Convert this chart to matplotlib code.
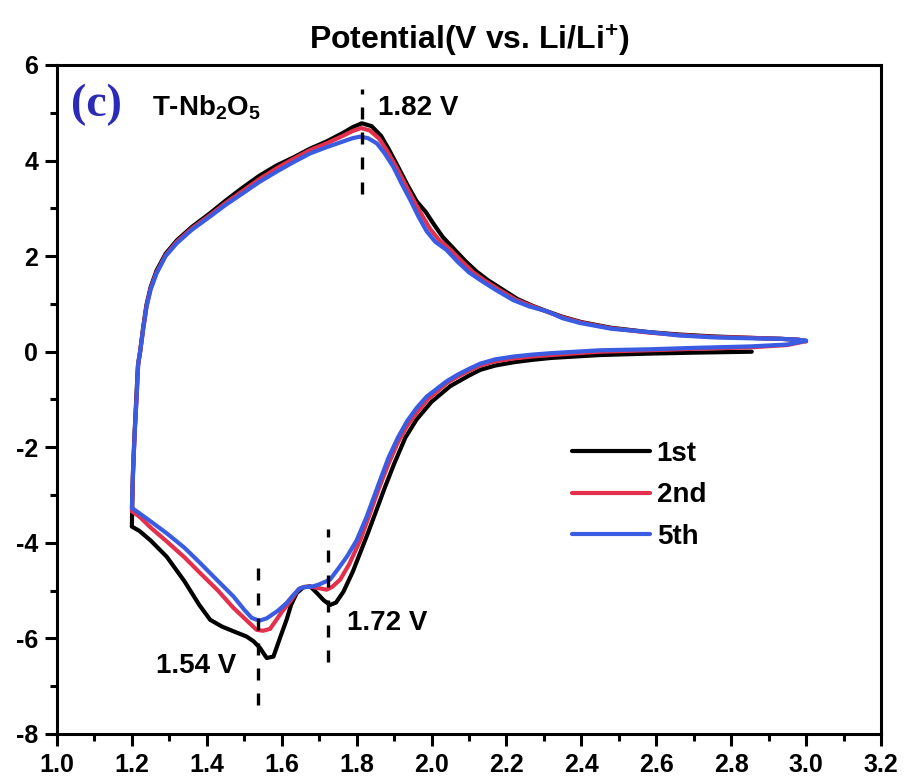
import matplotlib
matplotlib.use("Agg")
import matplotlib.pyplot as plt
from matplotlib.ticker import MultipleLocator, FormatStrFormatter

plt.rcParams['font.family'] = ['Liberation Sans', 'DejaVu Sans']
plt.rcParams['font.weight'] = 'bold'
plt.rcParams['axes.unicode_minus'] = False
plt.rcParams['mathtext.fontset'] = 'custom'
plt.rcParams['mathtext.rm'] = 'Liberation Sans'
plt.rcParams['mathtext.bf'] = 'Liberation Sans:bold'
plt.rcParams['mathtext.default'] = 'bf'

# 1st cycle: from OCV (2.855 V) down to 1.2 V, then back up to 3.0 V
v_1st = [2.855, 2.70, 2.58, 2.45, 2.32, 2.27, 2.22, 2.17, 2.13, 2.10, 2.05, 2.00, 1.96, 1.93, 1.90,
         1.875, 1.85, 1.83, 1.81, 1.79, 1.765, 1.745, 1.729, 1.712, 1.694, 1.676, 1.658, 1.64,
         1.625, 1.613, 1.595, 1.578, 1.56, 1.542, 1.525, 1.506, 1.471, 1.44, 1.409, 1.38, 1.34,
         1.293, 1.25, 1.22, 1.20,
         1.202, 1.206, 1.211, 1.216, 1.222, 1.23, 1.239, 1.25, 1.266, 1.29, 1.32, 1.36, 1.409,
         1.45, 1.497, 1.54, 1.587, 1.63, 1.676, 1.72, 1.764, 1.79, 1.814, 1.84, 1.865, 1.885,
         1.91, 1.935, 1.96, 1.985, 2.005, 2.03, 2.06, 2.09, 2.12, 2.15, 2.19, 2.23, 2.27, 2.31,
         2.35, 2.40, 2.48, 2.58, 2.66, 2.75, 2.85, 2.93, 2.98, 3.00]
i_1st = [0.0, -0.02, -0.04, -0.07, -0.13, -0.17, -0.22, -0.29, -0.38, -0.50, -0.72, -1.05, -1.42,
         -1.80, -2.35, -2.85, -3.38, -3.80, -4.20, -4.60, -5.02, -5.25, -5.30, -5.20, -5.05, -4.91,
         -4.93, -5.05, -5.30, -5.61, -6.00, -6.38, -6.41, -6.20, -6.06, -5.96, -5.85, -5.75, -5.61,
         -5.30, -4.80, -4.29, -3.95, -3.75, -3.66,
         -2.80, -1.90, -1.10, -0.30, 0.0, 0.50, 0.98, 1.35, 1.70, 2.05, 2.33, 2.61, 2.90, 3.16,
         3.44, 3.68, 3.90, 4.06, 4.25, 4.40, 4.58, 4.70, 4.78, 4.72, 4.52, 4.25, 3.88, 3.50, 3.15,
         2.92, 2.68, 2.40, 2.15, 1.90, 1.68, 1.50, 1.30, 1.10, 0.96, 0.84, 0.73, 0.62, 0.50, 0.41,
         0.36, 0.32, 0.29, 0.27, 0.25, 0.22]

# 2nd cycle
v_2nd = [3.00, 2.95, 2.85, 2.70, 2.58, 2.45, 2.32, 2.27, 2.22, 2.17, 2.13, 2.10, 2.07, 2.04, 1.99,
         1.96, 1.935, 1.91, 1.885, 1.86, 1.835, 1.81, 1.78, 1.756, 1.735, 1.72, 1.70, 1.68, 1.66,
         1.645, 1.625, 1.60, 1.585, 1.569, 1.55, 1.533, 1.51, 1.471, 1.43, 1.382, 1.34, 1.293,
         1.25, 1.22, 1.20,
         1.203, 1.208, 1.213, 1.217, 1.222, 1.23, 1.239, 1.25, 1.266, 1.29, 1.32, 1.36, 1.409,
         1.45, 1.497, 1.54, 1.587, 1.63, 1.676, 1.72, 1.764, 1.79, 1.812, 1.835, 1.86, 1.88,
         1.905, 1.93, 1.95, 1.975, 1.997, 2.02, 2.05, 2.08, 2.11, 2.14, 2.18, 2.225, 2.27, 2.31,
         2.35, 2.40, 2.48, 2.58, 2.66, 2.75, 2.85, 2.93, 2.98, 3.00]
i_2nd = [0.22, 0.14, 0.09, 0.06, 0.03, 0.0, -0.07, -0.10, -0.14, -0.20, -0.29, -0.40, -0.52, -0.66,
         -1.00, -1.28, -1.55, -1.90, -2.35, -2.85, -3.40, -3.94, -4.45, -4.77, -4.92, -4.98, -4.95,
         -4.92, -4.92, -4.97, -5.20, -5.45, -5.62, -5.80, -5.84, -5.82, -5.65, -5.36, -5.00, -4.63,
         -4.30, -3.97, -3.68, -3.45, -3.34,
         -2.50, -1.64, -0.90, -0.24, 0.0, 0.46, 0.94, 1.32, 1.66, 2.02, 2.30, 2.58, 2.86, 3.11,
         3.37, 3.61, 3.84, 4.03, 4.22, 4.36, 4.52, 4.62, 4.68, 4.63, 4.46, 4.22, 3.88, 3.50, 3.20,
         2.85, 2.56, 2.34, 2.14, 1.90, 1.67, 1.50, 1.30, 1.09, 0.95, 0.83, 0.72, 0.61, 0.49, 0.40,
         0.35, 0.31, 0.29, 0.27, 0.25, 0.22]

# 5th cycle
v_5th = [3.00, 2.95, 2.85, 2.70, 2.58, 2.45, 2.32, 2.27, 2.22, 2.17, 2.13, 2.10, 2.07, 2.04, 1.987,
         1.96, 1.935, 1.91, 1.885, 1.863, 1.827, 1.80, 1.774, 1.75, 1.729, 1.70, 1.684, 1.66,
         1.649, 1.63, 1.613, 1.59, 1.56, 1.54, 1.52, 1.50, 1.471, 1.43, 1.382, 1.34, 1.293, 1.25,
         1.22, 1.20,
         1.203, 1.208, 1.213, 1.217, 1.222, 1.23, 1.239, 1.25, 1.266, 1.29, 1.32, 1.36, 1.409,
         1.45, 1.497, 1.54, 1.587, 1.63, 1.676, 1.72, 1.764, 1.79, 1.809, 1.83, 1.854, 1.875,
         1.898, 1.92, 1.943, 1.965, 1.987, 2.01, 2.04, 2.07, 2.10, 2.13, 2.17, 2.218, 2.26, 2.31,
         2.35, 2.397, 2.48, 2.58, 2.66, 2.752, 2.85, 2.93, 2.98, 3.00]
i_5th = [0.23, 0.15, 0.11, 0.08, 0.05, 0.03, -0.03, -0.06, -0.10, -0.16, -0.25, -0.36, -0.48, -0.62,
         -0.94, -1.18, -1.45, -1.80, -2.22, -2.68, -3.45, -3.95, -4.29, -4.55, -4.77, -4.87, -4.91,
         -4.93, -4.95, -5.10, -5.26, -5.42, -5.58, -5.63, -5.57, -5.40, -5.12, -4.80, -4.42, -4.10,
         -3.80, -3.55, -3.38, -3.27,
         -2.50, -1.64, -0.90, -0.24, 0.0, 0.46, 0.94, 1.30, 1.64, 2.00, 2.27, 2.55, 2.83, 3.07,
         3.32, 3.55, 3.77, 3.96, 4.15, 4.28, 4.40, 4.47, 4.50, 4.47, 4.36, 4.15, 3.87, 3.52, 3.18,
         2.83, 2.52, 2.30, 2.13, 1.88, 1.66, 1.50, 1.30, 1.08, 0.95, 0.84, 0.70, 0.60, 0.48, 0.41,
         0.34, 0.30, 0.28, 0.27, 0.25, 0.23]

cycle_labels = ['1st', '2nd', '5th']
cycle_colors = ['#000000', '#e3304c', '#3a5ce2']

# peak markers
peak_v = [1.814, 1.538, 1.724]
peak_lo = [3.3, -7.4, -6.5]
peak_hi = [5.5, -4.5, -3.7]
peak_text = ['1.82 V', '1.54 V', '1.72 V']
peak_tx = [1.857, 1.372, 1.774]
peak_ty = [4.95, -6.72, -5.82]
peak_ha = ['left', 'center', 'left']

fig = plt.figure(figsize=(9.1, 7.81), dpi=100)
ax = fig.add_axes([0.0626, 0.0602, 0.9055, 0.8566])

for v, i, lab, col in zip([v_1st, v_2nd, v_5th], [i_1st, i_2nd, i_5th], cycle_labels, cycle_colors):
    ax.plot(v, i, color=col, lw=3.0, label=lab, solid_joinstyle='round', solid_capstyle='round')

for pv, lo, hi in zip(peak_v, peak_lo, peak_hi):
    ax.plot([pv, pv], [lo, hi], color='black', lw=2.4, dashes=(3.6, 3.9))

for txt, tx, ty, ha in zip(peak_text, peak_tx, peak_ty, peak_ha):
    ax.text(tx, ty, txt, fontsize=20, fontweight='bold', ha=ha, va='baseline')

ax.text(0.017, 0.940, '(c)', transform=ax.transAxes, fontsize=33, fontweight='bold',
        family='Liberation Serif', color='#2b2bb8', ha='left', va='center')
ax.text(0.115, 0.925, r'T-Nb$_2$O$_5$', transform=ax.transAxes, fontsize=20,
        fontweight='bold', ha='left', va='baseline')

ax.set_xlim(1.0, 3.2)
ax.set_ylim(-8, 6)
ax.xaxis.set_major_locator(MultipleLocator(0.2))
ax.xaxis.set_minor_locator(MultipleLocator(0.1))
ax.xaxis.set_major_formatter(FormatStrFormatter('%.1f'))
ax.yaxis.set_major_locator(MultipleLocator(2))
ax.yaxis.set_minor_locator(MultipleLocator(1))

ax.set_xlabel(r'Potential(V vs. Li/Li$^{+}$)', fontsize=23, fontweight='bold', labelpad=11)
ax.xaxis.set_label_position('top')

ax.tick_params(which='both', direction='out', width=2.2, top=False, right=False,
               labelsize=18)
ax.tick_params(which='major', length=8.6, pad=5)
ax.tick_params(which='minor', length=5)
for lbl in ax.get_xticklabels() + ax.get_yticklabels():
    lbl.set_fontweight('bold')
for sp in ax.spines.values():
    sp.set_linewidth(2.2)

ax.legend(loc='upper left', bbox_to_anchor=(0.625, 0.438), frameon=False,
          prop={'weight': 'bold', 'size': 20}, handlelength=2.8, handletextpad=0.25,
          labelspacing=0.55, borderpad=0, borderaxespad=0)

fig.savefig('out.png', dpi=100)
